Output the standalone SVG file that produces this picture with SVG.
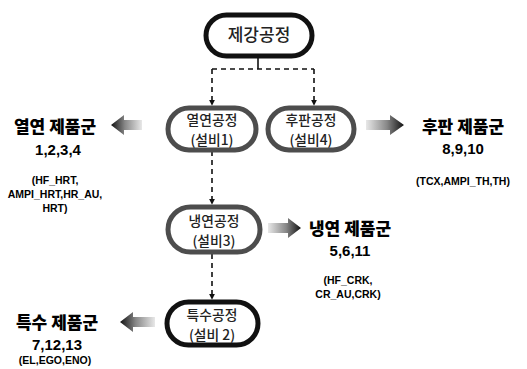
<svg xmlns="http://www.w3.org/2000/svg" width="527" height="369" viewBox="0 0 527 369">
<defs>
<linearGradient id="gR" x1="0" x2="1" y1="0" y2="0"><stop offset="0" stop-color="#e8e8e8"/><stop offset="0.55" stop-color="#888"/><stop offset="1" stop-color="#111"/></linearGradient>
<linearGradient id="gL" x1="1" x2="0" y1="0" y2="0"><stop offset="0" stop-color="#e8e8e8"/><stop offset="0.55" stop-color="#888"/><stop offset="1" stop-color="#111"/></linearGradient>
<marker id="ah" viewBox="0 0 8 8" refX="7" refY="4" markerWidth="6" markerHeight="6" orient="auto" markerUnits="userSpaceOnUse"><path d="M0,0 L8,4 L0,8 z" fill="#111"/></marker>
</defs>
<style>
.blk{fill:#fff;stroke:#111;stroke-width:5}
.gry{fill:#fff;stroke:#4d4d4d;stroke-width:5}
.nt{font-family:"Noto Sans CJK KR","Noto Sans",sans-serif;font-size:13.8px;font-weight:500;fill:#222;text-anchor:middle}
.pt{font-family:"Noto Sans CJK KR","Liberation Sans",sans-serif;font-size:17px;font-weight:900;fill:#000;text-anchor:middle}
.num{font-family:"Liberation Sans",Arial,sans-serif;font-size:15px;font-weight:bold;fill:#000;text-anchor:middle}
.sm{font-family:"Liberation Sans",Arial,sans-serif;font-size:10.5px;font-weight:bold;fill:#000;text-anchor:middle}
.dash{fill:none;stroke:#111;stroke-width:1.6;stroke-dasharray:5,4}
</style>
<g id="connectors">
<line x1="258" y1="57" x2="258" y2="69" stroke="#111" stroke-width="1.6"/>
<line class="dash" x1="212" y1="69" x2="314" y2="69"/>
<line class="dash" x1="212" y1="69" x2="212" y2="105" marker-end="url(#ah)"/>
<line class="dash" x1="314" y1="69" x2="314" y2="105" marker-end="url(#ah)"/>
<line class="dash" x1="212" y1="151" x2="212" y2="204" marker-end="url(#ah)"/>
<line class="dash" x1="212" y1="254" x2="212" y2="299" marker-end="url(#ah)"/>
<path d="M142,120 L124,120 L124,115 L111,125 L124,135 L124,130 L142,130 z" fill="url(#gL)"/>
<path d="M366,120 L390,120 L390,115 L404,125 L390,135 L390,130 L366,130 z" fill="url(#gR)"/>
<path d="M268,223 L288,223 L288,218 L301,228 L288,238 L288,233 L268,233 z" fill="url(#gR)"/>
<path d="M155,317 L133,317 L133,312 L120,322 L133,332 L133,327 L155,327 z" fill="url(#gL)"/>
</g>
<g id="n-steel">
<rect class="blk" x="206" y="15" width="106" height="41" rx="20.5"/>
<text class="nt" x="259" y="41" style="font-size:17px">제강공정</text>
</g>
<g id="n-hot">
<rect class="gry" x="168" y="108" width="88" height="42" rx="21"/>
<text class="nt" x="212" y="125">열연공정</text>
<text class="nt" x="212" y="145">(설비1)</text>
</g>
<g id="n-plate">
<rect class="gry" x="268" y="108" width="86" height="42" rx="21"/>
<text class="nt" x="311" y="125">후판공정</text>
<text class="nt" x="311" y="145">(설비4)</text>
</g>
<g id="n-cold">
<rect class="gry" x="168" y="207" width="92" height="45" rx="22.5"/>
<text class="nt" x="214" y="226">냉연공정</text>
<text class="nt" x="214" y="246">(설비3)</text>
</g>
<g id="n-special">
<rect class="blk" x="167" y="302" width="91" height="43" rx="21.5"/>
<text class="nt" x="212" y="320">특수공정</text>
<text class="nt" x="212" y="340">(설비 2)</text>
</g>
<g id="p-hot">
<text class="pt" x="55" y="133">열연 제품군</text>
<text class="num" x="58" y="155">1,2,3,4</text>
<text class="sm" x="55" y="184">(HF_HRT,</text>
<text class="sm" x="55" y="198">AMPI_HRT,HR_AU,</text>
<text class="sm" x="55" y="212">HRT)</text>
</g>
<g id="p-plate">
<text class="pt" x="463" y="133">후판 제품군</text>
<text class="num" x="463" y="154">8,9,10</text>
<text class="sm" x="463" y="185">(TCX,AMPI_TH,TH)</text>
</g>
<g id="p-cold">
<text class="pt" x="350" y="235">냉연 제품군</text>
<text class="num" x="350" y="256">5,6,11</text>
<text class="sm" x="348" y="284">(HF_CRK,</text>
<text class="sm" x="348" y="298">CR_AU,CRK)</text>
</g>
<g id="p-special">
<text class="pt" x="57" y="329">특수 제품군</text>
<text class="num" x="57" y="350">7,12,13</text>
<text class="sm" x="55" y="364">(EL,EGO,ENO)</text>
</g>
</svg>
